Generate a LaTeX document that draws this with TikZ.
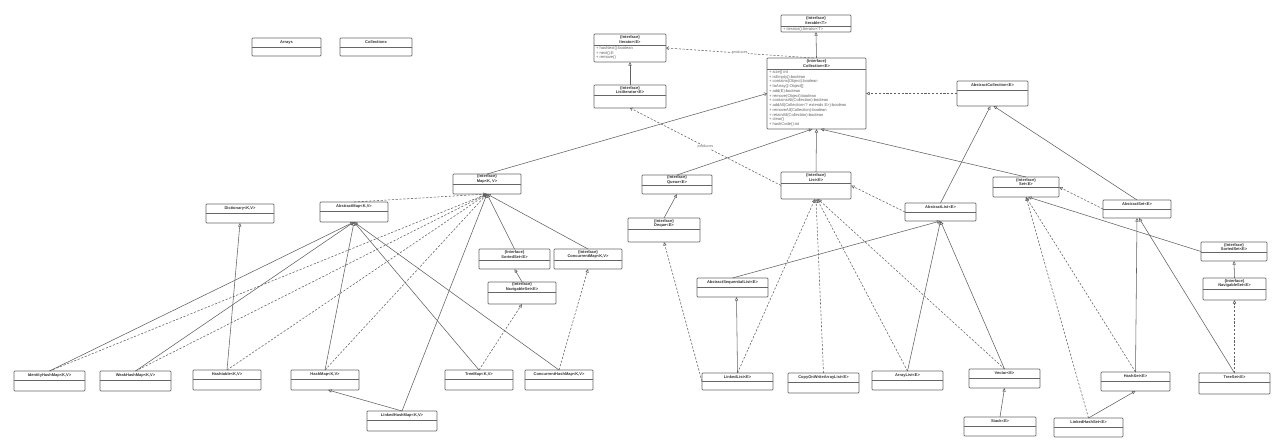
\documentclass[tikz,border=0pt]{standalone}
\usepackage{fontspec}
\setmainfont{Liberation Sans}
\usetikzlibrary{arrows.meta}
\tikzset{
  x=1pt, y=-1pt,
  umlbox/.style={draw=black!60, line width=0.7pt, rounded corners=0.8pt, fill=white, inner sep=0pt, outer sep=0pt},
  umlrule/.style={draw=black!60, line width=0.6pt},
  umlname/.style={font=\fontsize{4}{4.4}\selectfont\bfseries, text=black!80, inner sep=0pt, align=center},
  umlmeth/.style={font=\fontsize{4.05}{4.75}\selectfont, text=black!62, inner sep=0pt, align=left, anchor=north west},
  umlline/.style={draw=black!62, line width=0.55pt},
  umlgen/.style={umlline, -{Triangle[open, length=3.6pt, width=3.2pt]}},
  umlreal/.style={umlgen, dash pattern=on 2.2pt off 1.6pt},
  umldep/.style={umlline, dash pattern=on 2.2pt off 1.6pt, -{Straight Barb[length=2.4pt, width=3.2pt]}},
  umlassoc/.style={umlline, -{Straight Barb[length=2.4pt, width=3.4pt]}},
  umllbl/.style={font=\fontsize{3.8}{4}\selectfont, text=black!55, fill=white, inner sep=0.4pt},
}
\newcommand\umlcls[7]{%
  \node[umlbox, anchor=north west, minimum width={(#4)-(#2)}, minimum height={(#5)-(#3)}] (#1) at (#2,#3) {};
  \draw[umlrule] (#2,#6) -- (#4,#6);
  \node[umlname] (#1t) at ({(#2+#4)/2},{(#3+#6)/2}) {#7};
}
\begin{document}
\begin{tikzpicture}
\fill[white] (0,0) rectangle (1280,446);
\useasboundingbox (0,0) rectangle (1280,446);

% classes
\umlcls{arrays}{252}{38}{321}{56}{47}{Arrays}
\umlcls{collections}{340}{38}{412}{56}{47}{Collections}
\umlcls{iterable}{781}{15}{851}{32}{26}{\{Interface\}\\Iterable<T>}
\umlcls{iterator}{594}{34}{666}{62}{45}{\{Interface\}\\Iterator<E>}
\umlcls{listiter}{594}{85}{666}{108}{95}{\{Interface\}\\ListIterator<E>}
\umlcls{collection}{767}{58}{866}{129}{69}{\{Interface\}\\Collection<E>}
\umlcls{abscoll}{957}{81}{1028}{106}{90}{AbstractCollection<E>}
\umlcls{map}{453}{174}{521}{194}{184}{\{Interface\}\\Map<K, V>}
\umlcls{queue}{642}{175}{712}{194}{185}{\{Interface\}\\Queue<E>}
\umlcls{list}{781}{172}{851}{199}{183}{\{Interface\}\\List<E>}
\umlcls{set}{993}{177}{1059}{197}{187}{\{Interface\}\\Set<E>}
\umlcls{abslist}{905}{203}{976}{221}{212}{AbstractList<E>}
\umlcls{absset}{1103}{200}{1171}{218}{209}{AbstractSet<E>}
\umlcls{dict}{206}{204}{274}{223}{213}{Dictionary<K,V>}
\umlcls{absmap}{320}{202}{388}{222}{211}{AbstractMap<K,V>}
\umlcls{deque}{628}{218}{700}{242}{229}{\{Interface\}\\Deque<E>}
\umlcls{sortsetA}{479}{249}{550}{269}{260}{\{Interface\}\\SortedSet<E>}
\umlcls{cmap}{554}{249}{622}{269}{260}{\{Interface\}\\ConcurrentMap<K,V>}
\umlcls{navsetA}{488}{282}{556}{304}{292}{\{Interface\}\\NavigableSet<E>}
\umlcls{absseq}{697}{278}{768}{297}{287}{AbstractSequentialList<E>}
\umlcls{sortsetB}{1201}{242}{1267}{261}{252}{\{Interface\}\\SortedSet<E>}
\umlcls{navsetB}{1203}{278}{1266}{300}{289}{\{Interface\}\\NavigableSet<E>}
\umlcls{identity}{14}{371}{85}{391}{380}{IdentityHashMap<K,V>}
\umlcls{weak}{100}{371}{171}{391}{380}{WeakHashMap<K,V>}
\umlcls{hashtable}{193}{370}{261}{390}{379}{Hashtable<K,V>}
\umlcls{hashmap}{291}{370}{359}{390}{379}{HashMap<K,V>}
\umlcls{lhm}{367}{411}{437}{431}{420}{LinkedHashMap<K,V>}
\umlcls{treemap}{445}{370}{513}{390}{379}{TreeMap<K,V>}
\umlcls{chm}{525}{370}{593}{390}{379}{ConcurrentHashMap<K,V>}
\umlcls{linkedlist}{702}{373}{773}{390}{381}{LinkedList<E>}
\umlcls{cow}{788}{373}{859}{393}{382}{CopyOnWriteArrayList<E>}
\umlcls{arraylist}{872}{371}{943}{390}{380}{ArrayList<E>}
\umlcls{vector}{969}{369}{1040}{388}{378}{Vector<E>}
\umlcls{stack}{964}{417}{1036}{436}{426}{Stack<E>}
\umlcls{hashset}{1101}{372}{1170}{391}{381}{HashSet<E>}
\umlcls{lhs}{1054}{418}{1123}{437}{427}{LinkedHashSet<E>}
\umlcls{treeset}{1199}{373}{1270}{394}{382}{TreeSet<E>}

% members
\node[umlmeth] (iterablem) at (783,27.3) {+ iterator():Iterator<T>};
\node[umlmeth] (iteratorm) at (596,46.3) {+ hasNext():boolean\\+ next():E\\+ remove()};
\node[umlmeth] (collectionm) at (769,70.3) {+ size():int\\+ isEmpty():boolean\\+ contains(Object):boolean\\+ toArray():Object[]\\+ add(E):boolean\\+ remove(Object):boolean\\+ containsAll(Collection):boolean\\+ addAll(Collection<? extends E>):boolean\\+ removeAll(Collection):boolean\\+ retainAll(Collection):boolean\\+ clear()\\+ hashCode():int};

% top relations
\draw[umlgen] (collection.north) -- (iterable.south);
\draw[umldep] ([xshift=-3]collection.north) -- node[umllbl] (prod1) {produces} (iterator.east);
\draw[umlgen] (listiter.north) -- (iterator.south);
\draw[umlreal] (abscoll.west) -- (collection.east);
\draw[umlassoc] (map.north) -- (collection.west);
\draw[umldep] (list.west) -- node[umllbl] (prod2) {produces} (listiter.south);
\draw[umlgen] (queue.north) -- ([xshift=-4]collection.south);
\draw[umlgen] (list.north) -- (collection.south);
\draw[umlgen] (set.north) -- ([xshift=4]collection.south);
\draw[umlgen] (abslist.north) -- ([xshift=-2]abscoll.south);
\draw[umlgen] (absset.north) -- ([xshift=1]abscoll.south);

% list side
\draw[umlreal] (abslist.west) -- (list.east);
\draw[umlgen] (deque.north) -- (queue.south);
\draw[umlgen] (absseq.north) -- (abslist.south);
\draw[umlgen] (linkedlist.north) -- ([xshift=4]absseq.south);
\draw[umlreal] (linkedlist.north) -- ([xshift=-1]list.south);
\draw[umlreal] (linkedlist.west) -- (deque.south);
\draw[umlreal] (cow.north) -- (list.south);
\draw[umlreal] (arraylist.north) -- ([xshift=1]list.south);
\draw[umlgen] (arraylist.north) -- (abslist.south);
\draw[umlreal] (vector.north) -- ([xshift=2]list.south);
\draw[umlgen] (vector.north) -- (abslist.south);
\draw[umlgen] (stack.north) -- (vector.south);

% set side
\draw[umlreal] (absset.west) -- (set.east);
\draw[umlgen] (hashset.north) -- (absset.south);
\draw[umlreal] (hashset.north) -- (set.south);
\draw[umlreal] (lhs.north) -- (set.south);
\draw[umlgen] (lhs.north) -- (hashset.south);
\draw[umlgen] (treeset.north) -- ([xshift=2]absset.south);
\draw[umlreal] (treeset.north) -- (navsetB.south);
\draw[umlgen] (navsetB.north) -- (sortsetB.south);
\draw[umlgen] (sortsetB.west) -- ([xshift=2]set.south);

% map side
\draw[umlreal] (absmap.north) -- (map.south);
\draw[umlgen] (identity.north) -- (absmap.south);
\draw[umlreal] (identity.north) -- (map.south);
\draw[umlgen] (weak.north) -- (absmap.south);
\draw[umlreal] (weak.north) -- (map.south);
\draw[umlgen] (hashtable.north) -- (dict.south);
\draw[umlreal] (hashtable.north) -- (map.south);
\draw[umlgen] (hashmap.north) -- (absmap.south);
\draw[umlreal] (hashmap.north) -- (map.south);
\draw[umlgen] (lhm.north) -- ([xshift=3]hashmap.south);
\draw[umlgen] (lhm.north) -- (map.south);
\draw[umlgen] (treemap.north) -- (absmap.south);
\draw[umlreal] (treemap.north) -- (navsetA.south);
\draw[umlgen] (chm.north) -- (absmap.south);
\draw[umlreal] (chm.north) -- (cmap.south);
\draw[umlgen] (sortsetA.north) -- (map.south);
\draw[umlgen] (cmap.north) -- (map.south);
\draw[umlgen] (navsetA.north) -- (sortsetA.south);
\end{tikzpicture}
\end{document}
